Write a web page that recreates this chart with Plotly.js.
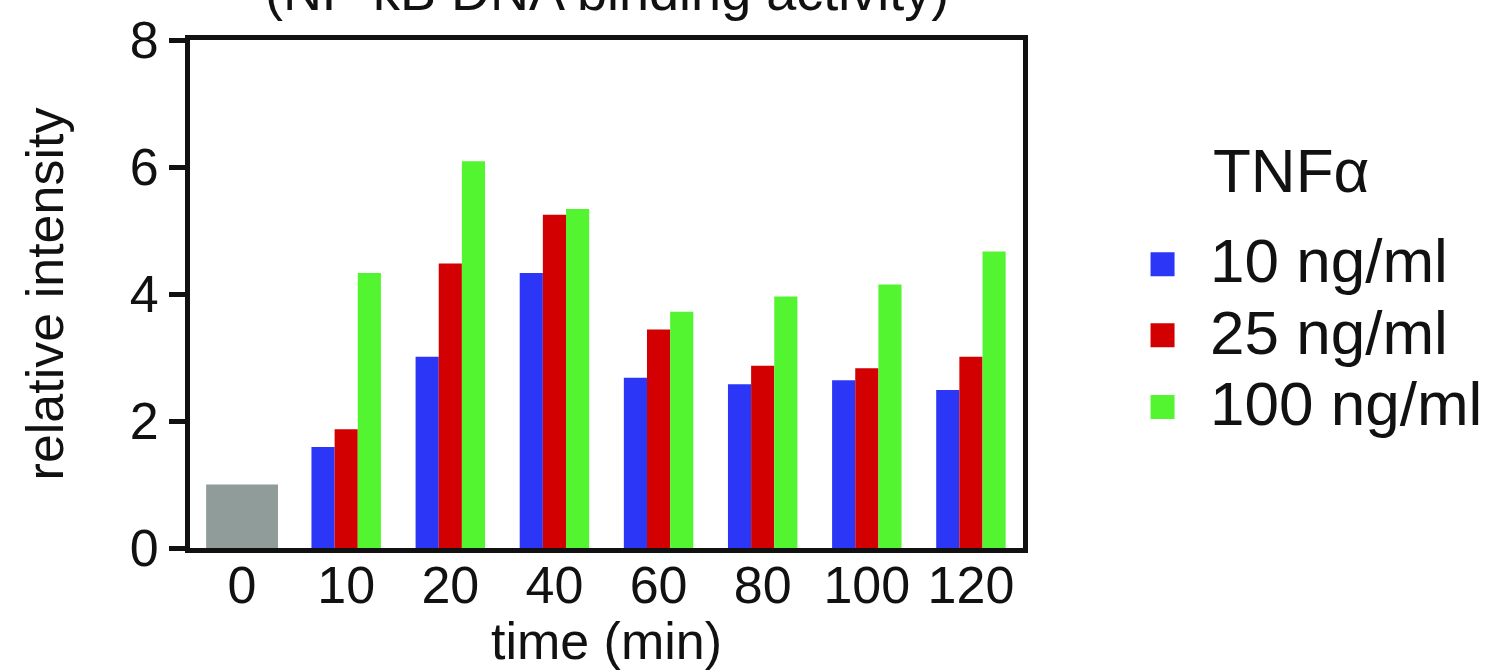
<!DOCTYPE html>
<html>
<head>
<meta charset="utf-8">
<script src="https://cdn.plot.ly/plotly-3.0.1.min.js"></script>
<style>html,body{margin:0;padding:0;background:#fff;}#chart{width:1505px;height:670px;}</style>
</head>
<body>
<div id="chart"></div>
<script>
// ---- data ----
const timeLabels = ["0", "10", "20", "40", "60", "80", "100", "120"];
const controlLabel = ["0"];
const controlValues = [1.0];
const seriesNames = ["10 ng/ml", "25 ng/ml", "100 ng/ml"];
const dose10 = [null, 1.59, 3.01, 4.33, 2.68, 2.58, 2.64, 2.49];
const dose25 = [null, 1.87, 4.48, 5.25, 3.44, 2.87, 2.83, 3.01];
const dose100 = [null, 4.33, 6.09, 5.34, 3.72, 3.96, 4.15, 4.67];
const yTicks = [0, 2, 4, 6, 8];

// ---- style ----
const colors = ["#2b36f6", "#d20000", "#53f530"];
const grayColor = "#8f9c99";
const FONT = "Liberation Sans, Arial, Helvetica, sans-serif";

const seriesValues = [dose10, dose25, dose100];
const legendIds = ["legend", "legend2", "legend3"];

const traces = seriesValues.map((vals, i) => ({
  type: "bar",
  x: timeLabels,
  y: vals,
  name: seriesNames[i],
  marker: { color: colors[i], line: { width: 0 } },
  legend: legendIds[i],
  hoverinfo: "x+y+name"
}));

traces.push({
  type: "bar",
  x: controlLabel,
  y: controlValues,
  xaxis: "x2",
  name: "control",
  width: 0.69,
  marker: { color: grayColor, line: { width: 0 } },
  showlegend: false
});

const legendRowY = [0.57, 0.43, 0.289];
const legendBase = {
  x: 1.1105,
  xanchor: "left",
  yanchor: "middle",
  yref: "paper",
  bgcolor: "rgba(0,0,0,0)",
  font: { family: FONT, size: 62, color: "#111" },
  itemwidth: 85
};

const layout = {
  width: 1505,
  height: 670,
  margin: { l: 190, r: 482, t: 40, b: 122, pad: 0 },
  paper_bgcolor: "#ffffff",
  plot_bgcolor: "#ffffff",
  barmode: "group",
  bargap: 0.333,
  bargroupgap: 0,
  font: { family: FONT, color: "#111" },
  xaxis: {
    type: "category",
    categoryorder: "array",
    categoryarray: timeLabels,
    range: [-0.5, timeLabels.length - 0.5],
    showline: true,
    linecolor: "#111",
    linewidth: 5,
    mirror: true,
    ticks: "",
    ticklabelstandoff: -12,
    showgrid: false,
    zeroline: false,
    tickfont: { family: FONT, size: 52, color: "#111" },
    title: { text: "time (min)", font: { family: FONT, size: 52, color: "#111" }, standoff: 16 },
    fixedrange: true
  },
  xaxis2: {
    type: "category",
    categoryorder: "array",
    categoryarray: timeLabels,
    range: [-0.5, timeLabels.length - 0.5],
    overlaying: "x",
    visible: false,
    fixedrange: true
  },
  yaxis: {
    range: [0, 8],
    tickvals: yTicks,
    ticktext: yTicks.map(String),
    ticks: "outside",
    ticklen: 16,
    tickwidth: 5,
    tickcolor: "#111",
    showline: true,
    linecolor: "#111",
    linewidth: 5,
    mirror: true,
    showgrid: false,
    zeroline: false,
    tickfont: { family: FONT, size: 52, color: "#111" },
    title: { text: "relative intensity", font: { family: FONT, size: 52, color: "#111" }, standoff: 51 },
    fixedrange: true
  },
  legend: Object.assign({}, legendBase, { y: legendRowY[0] }),
  legend2: Object.assign({}, legendBase, { y: legendRowY[1] }),
  legend3: Object.assign({}, legendBase, { y: legendRowY[2] }),
  annotations: [
    {
      text: "(NF-κB DNA binding activity)",
      xref: "paper", yref: "paper",
      x: 0.5, y: 1.033,
      xanchor: "center", yanchor: "bottom",
      showarrow: false,
      font: { family: FONT, size: 54, color: "#111" }
    },
    {
      text: "TNFα",
      xref: "paper", yref: "paper",
      x: 1.226, y: 0.672,
      xanchor: "left", yanchor: "bottom",
      showarrow: false,
      font: { family: FONT, size: 62, color: "#111" }
    }
  ]
};

Plotly.newPlot("chart", traces, layout, { displayModeBar: false, staticPlot: true }).then(gd => {
  // enlarge legend squares and sit them slightly lower, as in the reference
  gd.querySelectorAll(".legendpoints path").forEach(p => {
    p.setAttribute("d", "M12,18H-12V-6H12Z");
  });
});
</script>
</body>
</html>
